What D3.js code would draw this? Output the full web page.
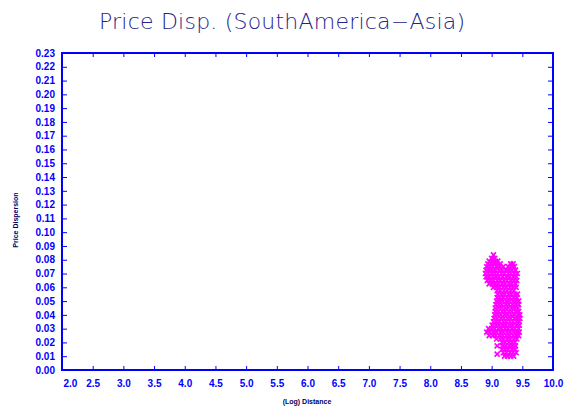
<!DOCTYPE html>
<html>
<head>
<meta charset="utf-8">
<script src="https://cdn.jsdelivr.net/npm/d3@7"></script>
<style>
  html, body { margin: 0; padding: 0; background: #ffffff; }
  svg { display: block; }
</style>
</head>
<body>
<svg id="chart" width="568" height="410"></svg>
<script>
// Axis ranges and tick values
const xDomain = [2.0, 10.0];
const yDomain = [0.0, 0.23];
const xTickValues = [2.0, 2.5, 3.0, 3.5, 4.0, 4.5, 5.0, 5.5, 6.0, 6.5, 7.0, 7.5, 8.0, 8.5, 9.0, 9.5, 10.0];
const yTickValues = [0.00, 0.01, 0.02, 0.03, 0.04, 0.05, 0.06, 0.07, 0.08, 0.09, 0.10, 0.11,
                     0.12, 0.13, 0.14, 0.15, 0.16, 0.17, 0.18, 0.19, 0.20, 0.21, 0.22, 0.23];

// Observations grouped by price dispersion: each row lists the (log) distances seen at that level
const dispersionLevels = [
  0.0835, 0.0810, 0.0790, 0.0770, 0.0750, 0.0725, 0.0700, 0.0675, 0.0650, 0.0625, 0.0600,
  0.0575, 0.0550, 0.0525, 0.0500, 0.0475, 0.0450, 0.0425, 0.0400, 0.0375, 0.0350, 0.0325,
  0.0300, 0.0275, 0.0250, 0.0225, 0.0200, 0.0175, 0.0150, 0.0125, 0.0115, 0.0100
];
const distancesAtLevel = [
  [9.03],
  [9.00, 9.05],
  [8.96, 9.01, 9.06, 9.10],
  [8.94, 8.99, 9.04, 9.09, 9.14, 9.31, 9.35],
  [8.92, 8.97, 9.02, 9.08, 9.13, 9.19, 9.27, 9.32, 9.37],
  [8.91, 8.96, 9.01, 9.06, 9.12, 9.17, 9.23, 9.28, 9.33, 9.39],
  [8.90, 8.95, 9.00, 9.05, 9.10, 9.16, 9.21, 9.27, 9.32, 9.37, 9.42],
  [8.91, 8.96, 9.02, 9.07, 9.12, 9.18, 9.24, 9.29, 9.35, 9.40],
  [8.93, 8.98, 9.03, 9.09, 9.14, 9.20, 9.25, 9.31, 9.36, 9.41],
  [8.96, 9.01, 9.06, 9.11, 9.17, 9.22, 9.28, 9.33, 9.39],
  [9.03, 9.08, 9.13, 9.19, 9.24, 9.30, 9.35, 9.40],
  [9.09, 9.14, 9.20, 9.25, 9.31, 9.36],
  [9.10, 9.16, 9.21, 9.27, 9.32, 9.38, 9.42],
  [9.09, 9.14, 9.19, 9.25, 9.30, 9.36, 9.41],
  [9.08, 9.13, 9.18, 9.24, 9.29, 9.35, 9.40, 9.44],
  [9.07, 9.12, 9.17, 9.23, 9.28, 9.34, 9.39, 9.44],
  [9.06, 9.11, 9.16, 9.22, 9.27, 9.33, 9.38, 9.43],
  [9.06, 9.11, 9.17, 9.22, 9.28, 9.33, 9.39, 9.44],
  [9.05, 9.10, 9.15, 9.21, 9.26, 9.32, 9.37, 9.43, 9.46],
  [9.04, 9.09, 9.15, 9.20, 9.26, 9.31, 9.37, 9.42, 9.46],
  [9.03, 9.08, 9.13, 9.19, 9.24, 9.30, 9.35, 9.41, 9.45],
  [9.01, 9.07, 9.12, 9.18, 9.23, 9.29, 9.34, 9.40, 9.45],
  [8.95, 9.00, 9.05, 9.11, 9.16, 9.22, 9.27, 9.33, 9.38, 9.44],
  [8.92, 8.97, 9.03, 9.08, 9.14, 9.19, 9.25, 9.30, 9.36, 9.41, 9.45],
  [8.96, 9.02, 9.07, 9.13, 9.18, 9.24, 9.29, 9.35, 9.40, 9.44],
  [9.08, 9.14, 9.19, 9.25, 9.30, 9.36, 9.41],
  [9.17, 9.22, 9.28, 9.33, 9.38],
  [9.09, 9.18, 9.23, 9.29, 9.34, 9.39],
  [9.17, 9.22, 9.27, 9.33, 9.38],
  [9.19, 9.24, 9.30, 9.35, 9.40],
  [9.09],
  [9.21, 9.26, 9.31, 9.36]
];

const points = dispersionLevels.flatMap((level, i) =>
  distancesAtLevel[i].map(d => ({ distance: d, dispersion: level })));

const svg = d3.select("#chart");
const frame = { left: 62, right: 553, top: 53, bottom: 370 };
const axisColor = "#0000ff";
const tickFont = "'Liberation Sans', Arial, sans-serif";

const x = d3.scaleLinear().domain(xDomain).range([frame.left, frame.right]);
const y = d3.scaleLinear().domain(yDomain).range([frame.bottom, frame.top]);

// Title
svg.append("text")
  .attr("x", 282).attr("y", 29)
  .attr("text-anchor", "middle")
  .attr("textLength", 366)
  .attr("lengthAdjust", "spacing")
  .style("font-family", "'DejaVu Sans', sans-serif")
  .style("font-weight", 200)
  .style("font-size", "22px")
  .style("fill", "#24248a")
  .text("Price Disp. (SouthAmerica\u2212Asia)");

function styleAxis(g) {
  g.select(".domain").remove();
  g.selectAll(".tick line").attr("stroke", axisColor).attr("stroke-width", 1);
  g.selectAll(".tick text")
    .style("font-family", tickFont)
    .style("font-size", "10px")
    .style("font-weight", "bold")
    .style("fill", axisColor);
}

// Bottom axis with labels
const gBottom = svg.append("g")
  .attr("transform", `translate(0,${frame.bottom})`)
  .call(d3.axisBottom(x).tickValues(xTickValues).tickFormat(d3.format(".1f"))
    .tickSize(-4).tickPadding(10))
  .call(styleAxis);
gBottom.selectAll(".tick text").filter(d => d === xDomain[0])
  .attr("text-anchor", "start").attr("x", 1);

// Top axis ticks only
svg.append("g")
  .attr("transform", `translate(0,${frame.top})`)
  .call(d3.axisTop(x).tickValues(xTickValues).tickFormat("").tickSize(-4))
  .call(styleAxis);

// Left axis with labels
svg.append("g")
  .attr("transform", `translate(${frame.left},0)`)
  .call(d3.axisLeft(y).tickValues(yTickValues).tickFormat(d3.format(".2f"))
    .tickSize(-5).tickPadding(7))
  .call(styleAxis);

// Right axis ticks only
svg.append("g")
  .attr("transform", `translate(${frame.right},0)`)
  .call(d3.axisRight(y).tickValues(yTickValues).tickFormat("").tickSize(-5))
  .call(styleAxis);

// Plot frame
svg.append("rect")
  .attr("x", frame.left).attr("y", frame.top)
  .attr("width", frame.right - frame.left)
  .attr("height", frame.bottom - frame.top)
  .attr("fill", "none")
  .attr("stroke", axisColor)
  .attr("stroke-width", 2);

// Scatter markers drawn as small crosses
const s = 2.5;
svg.append("g")
  .selectAll("path")
  .data(points)
  .join("path")
  .attr("d", d => {
    const cx = x(d.distance), cy = y(d.dispersion);
    return `M${cx - s},${cy - s}L${cx + s},${cy + s}M${cx - s},${cy + s}L${cx + s},${cy - s}`;
  })
  .attr("stroke", "#ff00ff")
  .attr("stroke-width", 1.7)
  .attr("fill", "none");

// Axis titles
svg.append("text")
  .attr("x", 307).attr("y", 404)
  .attr("text-anchor", "middle")
  .style("font-family", tickFont)
  .style("font-weight", "bold")
  .style("font-size", "7px")
  .style("fill", "#000066")
  .text("(Log) Distance");

svg.append("text")
  .attr("transform", "translate(17.5,220) rotate(-90)")
  .attr("text-anchor", "middle")
  .style("font-family", tickFont)
  .style("font-weight", "bold")
  .style("font-size", "7px")
  .style("fill", "#000066")
  .text("Price Dispersion");
</script>
</body>
</html>
